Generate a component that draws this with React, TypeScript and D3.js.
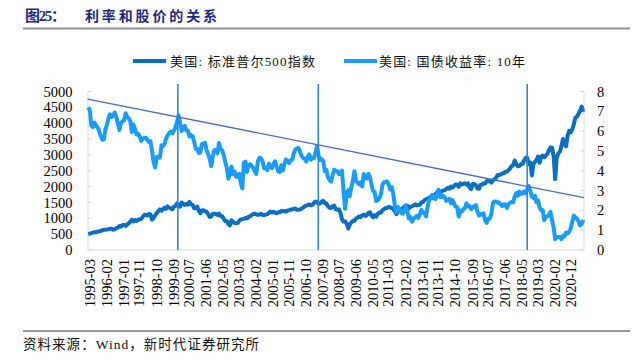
import React from 'react';
import * as d3 from 'd3';

// ---------- data (monthly, starting 1995-03) ----------
const seriesStart = '1995-03';

// S&P 500 index (left axis)
const spxValues = [
  // 1995 (Mar-Dec)
  500, 515, 533, 545, 562, 562, 584, 582, 605, 616,
  // 1996
  636, 640, 645, 654, 669, 671, 640, 652, 687, 705, 757, 741,
  // 1997
  786, 791, 757, 801, 848, 885, 954, 899, 947, 915, 955, 970,
  // 1998
  980, 1049, 1102, 1112, 1091, 1134, 1121, 957, 1017, 1099, 1164, 1229,
  // 1999
  1280, 1238, 1286, 1335, 1302, 1373, 1329, 1320, 1283, 1363, 1389, 1469,
  // 2000
  1394, 1366, 1499, 1452, 1421, 1455, 1431, 1518, 1437, 1429, 1315, 1320,
  // 2001
  1366, 1240, 1160, 1249, 1256, 1224, 1211, 1134, 1041, 1060, 1139, 1148,
  // 2002
  1130, 1107, 1147, 1077, 1067, 990, 912, 916, 815, 777, 936, 880,
  // 2003
  856, 841, 848, 917, 964, 975, 990, 1008, 996, 1051, 1058, 1112,
  // 2004
  1131, 1145, 1126, 1107, 1121, 1141, 1102, 1104, 1115, 1130, 1174, 1212,
  // 2005
  1181, 1204, 1181, 1157, 1192, 1191, 1234, 1220, 1229, 1207, 1249, 1248,
  // 2006
  1280, 1281, 1295, 1311, 1270, 1270, 1277, 1304, 1336, 1378, 1401, 1418,
  // 2007
  1438, 1407, 1421, 1482, 1531, 1503, 1455, 1474, 1527, 1549, 1481, 1468,
  // 2008
  1379, 1331, 1323, 1386, 1400, 1280, 1267, 1283, 1166, 969, 896, 903,
  // 2009
  826, 677, 798, 873, 919, 919, 987, 1021, 1057, 1036, 1096, 1115,
  // 2010
  1074, 1104, 1169, 1187, 1089, 1031, 1102, 1049, 1141, 1183, 1181, 1258,
  // 2011
  1286, 1327, 1326, 1364, 1345, 1321, 1292, 1219, 1131, 1253, 1247, 1258,
  // 2012
  1312, 1366, 1408, 1398, 1310, 1362, 1379, 1407, 1441, 1412, 1416, 1426,
  // 2013
  1498, 1515, 1569, 1598, 1631, 1606, 1686, 1633, 1682, 1757, 1806, 1848,
  // 2014
  1783, 1859, 1872, 1884, 1924, 1960, 1931, 2003, 1972, 2018, 2068, 2059,
  // 2015
  1995, 2105, 2068, 2086, 2107, 2063, 2104, 1972, 1920, 2079, 2080, 2044,
  // 2016
  1940, 1932, 2060, 2065, 2097, 2099, 2174, 2171, 2168, 2126, 2199, 2239,
  // 2017
  2279, 2364, 2363, 2384, 2412, 2423, 2470, 2472, 2519, 2575, 2648, 2674,
  // 2018
  2824, 2714, 2641, 2648, 2705, 2718, 2816, 2902, 2914, 2712, 2760, 2351,
  // 2019
  2704, 2784, 2834, 2946, 2752, 2942, 2980, 2926, 2977, 3038, 3141, 3231,
  // 2020
  3226, 2954, 2237, 2912, 3044, 3100, 3271, 3500, 3363, 3270, 3622, 3756,
  // 2021 (Jan-Sep)
  3714, 3811, 3973, 4181, 4204, 4298, 4395, 4523, 4358,
];

// US 10Y treasury yield, % (right axis)
const yieldValues = [
  // 1995 (Mar-Dec)
  7.20, 7.06, 6.28, 6.20, 6.43, 6.28, 6.18, 6.02, 5.74, 5.57,
  // 1996
  5.58, 6.10, 6.33, 6.67, 6.85, 6.71, 6.79, 6.94, 6.72, 6.37, 6.06, 6.42,
  // 1997
  6.49, 6.55, 6.90, 6.72, 6.66, 6.50, 5.95, 6.34, 6.10, 5.83, 5.87, 5.74,
  // 1998
  5.51, 5.62, 5.65, 5.67, 5.55, 5.45, 5.49, 4.98, 4.42, 4.16, 4.71, 4.65,
  // 1999
  4.65, 5.29, 5.24, 5.35, 5.62, 5.78, 5.90, 5.97, 5.88, 6.02, 6.19, 6.45,
  // 2000
  6.79, 6.41, 6.00, 6.21, 6.27, 6.03, 6.03, 5.73, 5.80, 5.75, 5.47, 5.11,
  // 2001
  5.11, 4.90, 4.92, 5.34, 5.38, 5.41, 5.05, 4.84, 4.59, 4.23, 4.75, 5.05,
  // 2002
  5.03, 4.88, 5.40, 5.09, 5.04, 4.80, 4.46, 4.14, 3.60, 3.89, 4.21, 3.82,
  // 2003
  3.96, 3.69, 3.80, 3.84, 3.37, 3.11, 4.41, 4.46, 3.94, 4.29, 4.33, 4.25,
  // 2004
  4.13, 3.97, 3.84, 4.50, 4.65, 4.62, 4.48, 4.12, 4.12, 4.03, 4.36, 4.22,
  // 2005
  4.13, 4.36, 4.48, 4.21, 3.98, 3.94, 4.28, 4.02, 4.34, 4.57, 4.49, 4.39,
  // 2006
  4.53, 4.55, 4.86, 5.07, 5.12, 5.15, 4.99, 4.74, 4.64, 4.61, 4.46, 4.71,
  // 2007
  4.83, 4.56, 4.65, 4.63, 4.90, 5.26, 4.78, 4.54, 4.59, 4.48, 3.97, 4.04,
  // 2008
  3.67, 3.53, 3.45, 3.77, 4.06, 3.99, 3.99, 3.83, 3.85, 4.01, 2.93, 2.08,
  // 2009
  2.87, 3.02, 2.71, 3.16, 3.47, 3.98, 3.52, 3.40, 3.31, 3.41, 3.21, 3.84,
  // 2010
  3.63, 3.61, 3.84, 3.69, 3.31, 2.97, 2.94, 2.47, 2.51, 2.60, 2.81, 3.30,
  // 2011
  3.42, 3.43, 3.47, 3.32, 3.06, 3.18, 2.82, 2.23, 1.92, 2.17, 2.08, 1.89,
  // 2012
  1.83, 1.98, 2.23, 1.95, 1.59, 1.67, 1.43, 1.57, 1.65, 1.72, 1.62, 1.78,
  // 2013
  2.02, 1.89, 1.87, 1.70, 2.16, 2.52, 2.60, 2.78, 2.64, 2.57, 2.75, 3.04,
  // 2014
  2.67, 2.66, 2.73, 2.67, 2.48, 2.53, 2.58, 2.35, 2.52, 2.35, 2.18, 2.17,
  // 2015
  1.68, 2.00, 1.94, 2.05, 2.12, 2.35, 2.20, 2.22, 2.06, 2.16, 2.21, 2.27,
  // 2016
  1.94, 1.74, 1.78, 1.83, 1.85, 1.49, 1.37, 1.58, 1.60, 1.84, 2.37, 2.45,
  // 2017
  2.45, 2.39, 2.40, 2.29, 2.21, 2.31, 2.30, 2.12, 2.33, 2.38, 2.42, 2.40,
  // 2018
  2.72, 2.87, 2.74, 2.95, 2.83, 2.85, 2.96, 2.86, 3.05, 3.23, 3.01, 2.69,
  // 2019
  2.63, 2.73, 2.41, 2.51, 2.14, 2.00, 2.02, 1.50, 1.68, 1.69, 1.78, 1.92,
  // 2020
  1.51, 1.13, 0.54, 0.64, 0.65, 0.66, 0.55, 0.72, 0.69, 0.88, 0.84, 0.93,
  // 2021 (Jan-Sep)
  1.11, 1.44, 1.74, 1.65, 1.58, 1.45, 1.24, 1.31, 1.52,
];

const xTickLabels = [
  '1995-03', '1996-02', '1997-01', '1997-11', '1998-10', '1999-09', '2000-07',
  '2001-06', '2002-05', '2003-03', '2004-02', '2005-01', '2005-11', '2006-10',
  '2007-09', '2008-07', '2009-06', '2010-05', '2011-03', '2012-02', '2013-01',
  '2013-11', '2014-10', '2015-09', '2016-07', '2017-06', '2018-05', '2019-03',
  '2020-02', '2020-12',
];
const leftTicks = [0, 500, 1000, 1500, 2000, 2500, 3000, 3500, 4000, 4500, 5000];
const rightTicks = [0, 1, 2, 3, 4, 5, 6, 7, 8];
const markerDates = ['2000-01-01', '2007-07-10', '2018-09-15'];
const trendDates = ['1995-03-01', '2021-09-30'];
const trendValues = [7.62, 2.64];
const legendLabels = ['美国: 标准普尔500指数', '美国: 国债收益率: 10年'];
const titleLabel = '图25：';
const titleText = '利率和股价的关系';
const sourceText = '资料来源：Wind，新时代证券研究所';

// ---------- layout ----------
const W = 642;
const H = 361;
const plot = { left: 88, right: 584, top: 91.5, bottom: 250 };
const C_SPX = '#0a6fc2';
const C_YLD = '#1a9cff';
const C_MARK = '#2f86d6';
const C_TREND = '#4a6cc4';
const C_AXIS = '#d9d9d9';
const SERIF = "'Liberation Serif', 'Times New Roman', 'Noto Sans CJK SC', serif";
const CJK = "'Liberation Serif', 'Noto Sans CJK SC', serif";

const parseMonth = d3.timeParse('%Y-%m');
const parseDay = d3.timeParse('%Y-%m-%d');
const start = parseMonth(seriesStart) as Date;
const pointDate = (i: number) => d3.timeDay.offset(d3.timeMonth.offset(start, i), 14);

export default function App() {
  React.useEffect(() => {
    document.body.style.margin = '0';
  }, []);

  const x = d3
    .scaleTime()
    .domain([parseDay(trendDates[0]) as Date, parseDay(trendDates[1]) as Date])
    .range([plot.left - 0.5, plot.right]);
  const yL = d3.scaleLinear().domain([0, 5000]).range([plot.bottom, plot.top]);
  const yR = d3.scaleLinear().domain([0, 8]).range([plot.bottom, plot.top]);

  const spxLine = d3
    .line<number>()
    .x((_, i) => x(pointDate(i)))
    .y((v) => yL(v));
  const yldLine = d3
    .line<number>()
    .x((_, i) => x(pointDate(i)))
    .y((v) => yR(v));

  const trend = trendDates.map((d, i) => [x(parseDay(d) as Date), yR(trendValues[i])]);

  return (
    <svg
      width={W}
      height={H}
      viewBox={`0 0 ${W} ${H}`}
      style={{ position: 'absolute', left: 0, top: 0, background: '#fff' }}
    >
      <rect x={0} y={0} width={W} height={H} fill="#fff" />
      {/* title */}
      <text
        x={25}
        y={21}
        fontFamily={SERIF}
        fontWeight="bold"
        fontSize={15}
        fill="#1d2a7c"
        textLength={41}
      >
        {titleLabel}
      </text>
      <text
        x={85}
        y={21}
        fontFamily="'Noto Sans CJK SC', sans-serif"
        fontWeight="bold"
        fontSize={14}
        fill="#1d2a7c"
        textLength={132}
      >
        {titleText}
      </text>
      <line x1={23} x2={630} y1={28.5} y2={28.5} stroke="#8f8f8f" strokeWidth={2} />

      {/* legend */}
      <line x1={133} x2={166} y1={61} y2={61} stroke={C_SPX} strokeWidth={4} />
      <text x={170} y={65.5} fontFamily={CJK} fontSize={13} fill="#111" textLength={145}>
        {legendLabels[0]}
      </text>
      <line x1={344} x2={377} y1={61} y2={61} stroke={C_YLD} strokeWidth={4} />
      <text x={379} y={65.5} fontFamily={CJK} fontSize={13} fill="#111" textLength={146}>
        {legendLabels[1]}
      </text>

      {/* axes */}
      <line x1={plot.left} x2={plot.left} y1={plot.top} y2={plot.bottom} stroke={C_AXIS} />
      <line x1={plot.right} x2={plot.right} y1={plot.top} y2={plot.bottom} stroke={C_AXIS} />
      <line x1={plot.left} x2={plot.right} y1={plot.bottom} y2={plot.bottom} stroke={C_AXIS} />
      {leftTicks.map((t) => (
        <g key={'l' + t}>
          <line x1={plot.left} x2={plot.left + 4} y1={yL(t)} y2={yL(t)} stroke={C_AXIS} />
          <text
            x={72.5}
            y={yL(t)}
            dy="0.35em"
            textAnchor="end"
            fontFamily={SERIF}
            fontSize={14.5}
            fill="#000"
          >
            {t}
          </text>
        </g>
      ))}
      {rightTicks.map((t) => (
        <g key={'r' + t}>
          <line x1={plot.right - 4} x2={plot.right} y1={yR(t)} y2={yR(t)} stroke={C_AXIS} />
          <text x={597} y={yR(t)} dy="0.35em" fontFamily={SERIF} fontSize={14.5} fill="#000">
            {t}
          </text>
        </g>
      ))}
      {xTickLabels.map((l) => {
        const px = x(parseMonth(l) as Date) + 2;
        return (
          <text
            key={l}
            transform={`translate(${px},259) rotate(-90)`}
            textAnchor="end"
            dy="0.35em"
            fontFamily={SERIF}
            fontSize={14.5}
            fill="#000"
          >
            {l}
          </text>
        );
      })}

      {/* series */}
      <path
        d={spxLine(spxValues) || ''}
        fill="none"
        stroke={C_SPX}
        strokeWidth={4}
        strokeLinejoin="round"
      />
      <path
        d={yldLine(yieldValues) || ''}
        fill="none"
        stroke={C_YLD}
        strokeWidth={4}
        strokeLinejoin="round"
      />

      {/* annotations */}
      <line
        x1={trend[0][0]}
        y1={trend[0][1]}
        x2={trend[1][0]}
        y2={trend[1][1]}
        stroke={C_TREND}
        strokeWidth={1.3}
      />
      {markerDates.map((d) => {
        const mx = x(parseDay(d) as Date);
        return (
          <line key={d} x1={mx} x2={mx} y1={84} y2={plot.bottom} stroke={C_MARK} strokeWidth={1.6} />
        );
      })}

      {/* footer */}
      <line x1={23} x2={630} y1={331} y2={331} stroke="#333" strokeWidth={1.2} />
      <text x={23} y={348.5} fontFamily={CJK} fontSize={13.5} fill="#111" textLength={236}>
        {sourceText}
      </text>
    </svg>
  );
}
